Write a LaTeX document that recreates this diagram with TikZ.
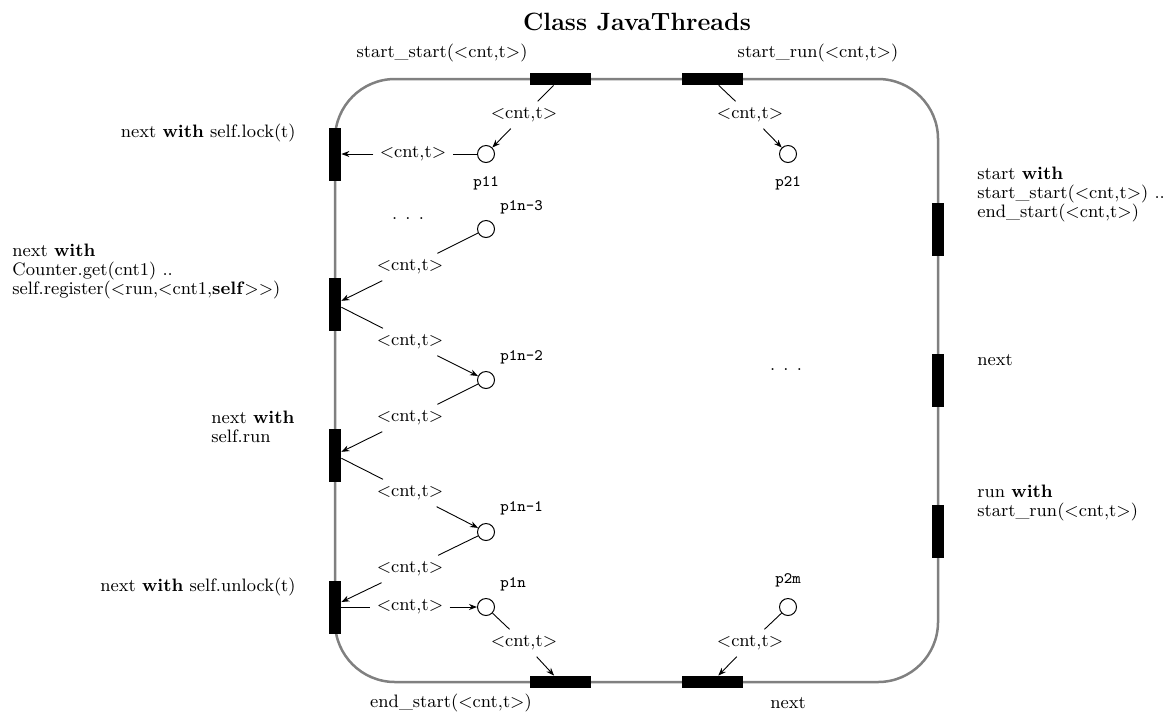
\documentclass[tikz,border=0pt]{standalone}
\usetikzlibrary{arrows.meta}
\newcommand\ctt{$<$cnt,t$>$}
\begin{document}
\begin{tikzpicture}[x=0.5pt,y=-0.5pt,
  txt/.style={font=\fontsize{9}{9.5}\selectfont, inner sep=0pt, align=left},
  title/.style={font=\fontsize{12.5}{14}\selectfont\bfseries, inner sep=0pt},
  vbar/.style={fill=black, draw=none, minimum width=6pt, minimum height=26.5pt, inner sep=0pt},
  hbar/.style={fill=black, draw=none, minimum width=30.5pt, minimum height=6pt, inner sep=0pt},
  place/.style={circle, draw, line width=0.5pt, minimum size=8.5pt, inner sep=0pt},
  plbl/.style={font=\ttfamily\fontsize{8}{9}\selectfont, inner sep=0pt},
  arclbl/.style={font=\fontsize{9}{9.5}\selectfont, inner sep=3pt},
  arcline/.style={line width=0.45pt},
  arr/.style={arcline, -{Stealth[length=4pt,width=3pt]}},
  loopline/.style={draw=black!50, line width=1.25pt, rounded corners=30pt}
]
\useasboundingbox (0,0) rectangle (1170,713);

% title
\node[title] (title) at (637,22) {Class JavaThreads};

% loop
\draw[loopline] (335,79) rectangle (938,682);

% transitions
\node[hbar] (T1) at (560,79) {};
\node[hbar] (T2) at (712,79) {};
\node[hbar] (B1) at (560,682) {};
\node[hbar] (B2) at (712,682) {};
\node[vbar] (L1) at (335,154) {};
\node[vbar] (L2) at (335,304) {};
\node[vbar] (L3) at (335,455) {};
\node[vbar] (L4) at (335,607) {};
\node[vbar] (R1) at (938,229) {};
\node[vbar] (R2) at (938,380) {};
\node[vbar] (R3) at (938,531) {};

% places
\node[place] (p11) at (486,154) {};
\node[place] (p21) at (788,154) {};
\node[place] (p1n3) at (486,229) {};
\node[place] (p1n2) at (486,380) {};
\node[place] (p1n1) at (486,532) {};
\node[place] (p1n) at (486,607) {};
\node[place] (p2m) at (788,607) {};

% place labels
\node[plbl] (lp11) at (486,183) {p11};
\node[plbl] (lp21) at (788,183) {p21};
\node[plbl, anchor=west] (lp1n3) at (500,207) {p1n-3};
\node[plbl, anchor=west] (lp1n2) at (500,357) {p1n-2};
\node[plbl, anchor=west] (lp1n1) at (500,508) {p1n-1};
\node[plbl, anchor=west] (lp1n) at (500,584) {p1n};
\node[plbl] (lp2m) at (788,580) {p2m};

% arc labels
\node[arclbl] (a1) at (524,115) {\ctt};
\node[arclbl] (a2) at (750,115) {\ctt};
\node[arclbl] (a3) at (413,154) {\ctt};
\node[arclbl] (a4) at (410,267) {\ctt};
\node[arclbl] (a5) at (410,342) {\ctt};
\node[arclbl] (a6) at (410,418) {\ctt};
\node[arclbl] (a7) at (410,493) {\ctt};
\node[arclbl] (a8) at (410,569) {\ctt};
\node[arclbl] (a9) at (410,607) {\ctt};
\node[arclbl] (a10) at (524,643) {\ctt};
\node[arclbl] (a11) at (750,643) {\ctt};

% arcs
\draw[arcline] (T1) -- (a1); \draw[arr] (a1) -- (p11);
\draw[arcline] (T2) -- (a2); \draw[arr] (a2) -- (p21);
\draw[arcline] (p11) -- (a3); \draw[arr] (a3) -- (L1);
\draw[arcline] (p1n3) -- (a4); \draw[arr] (a4) -- (L2);
\draw[arcline] (L2) -- (a5); \draw[arr] (a5) -- (p1n2);
\draw[arcline] (p1n2) -- (a6); \draw[arr] (a6) -- (L3);
\draw[arcline] (L3) -- (a7); \draw[arr] (a7) -- (p1n1);
\draw[arcline] (p1n1) -- (a8); \draw[arr] (a8) -- ([yshift=2.5pt]L4.east);
\draw[arcline] (L4.east) -- (a9); \draw[arr] (a9) -- (p1n);
\draw[arcline] (p1n) -- (a10); \draw[arr] (a10) -- (B1);
\draw[arcline] (p2m) -- (a11); \draw[arr] (a11) -- (B2);

% dots
\node[txt] (dots1) at (408,219) {. . .};
\node[txt] (dots2) at (786,370) {. . .};

% transition labels
\node[txt] (tT1) at (442,53) {start\_start(\ctt)};
\node[txt] (tT2) at (818,53) {start\_run(\ctt)};
\node[txt] (tB1) at (451,703) {end\_start(\ctt)};
\node[txt] (tB2) at (788,703) {next};
\node[txt, anchor=east] (tL1) at (296,133) {next \textbf{with} self.lock(t)};
\node[txt, anchor=west] (tL2) at (12,271) {next \textbf{with}\\Counter.get(cnt1) ..\\self.register($<$run,$<$cnt1,\textbf{self}$>$$>$)};
\node[txt, anchor=west] (tL3) at (211,427) {next \textbf{with}\\self.run};
\node[txt, anchor=east] (tL4) at (296,587) {next \textbf{with} self.unlock(t)};
\node[txt, anchor=west] (tR1) at (977,194) {start \textbf{with}\\start\_start(\ctt) ..\\end\_start(\ctt)};
\node[txt, anchor=west] (tR2) at (977,360) {next};
\node[txt, anchor=west] (tR3) at (977,503) {run \textbf{with}\\start\_run(\ctt)};
\end{tikzpicture}
\end{document}
